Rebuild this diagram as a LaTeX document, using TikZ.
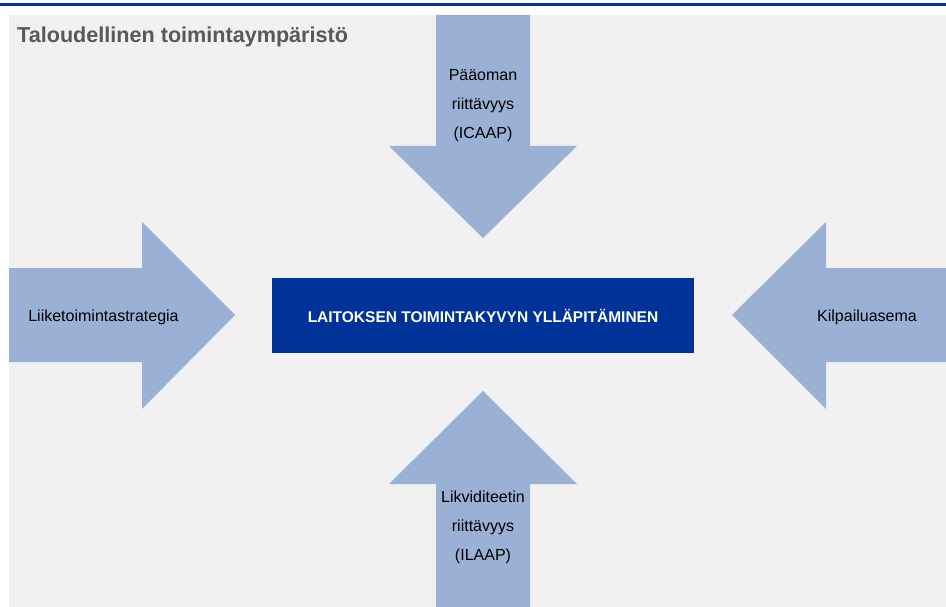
\documentclass[tikz,border=0pt]{standalone}
\usepackage{fontspec}
\setmainfont{Liberation Sans}
\usepackage{xcolor}
\usepackage{tikz}
\usetikzlibrary{positioning}
\definecolor{dblue}{RGB}{0 51 153}
\definecolor{lblue}{RGB}{155 176 213}
\definecolor{bggray}{RGB}{241 241 241}
\definecolor{tgray}{RGB}{89 89 89}

\begin{document}
\begin{tikzpicture}[x=1pt,y=-1pt,
  blockarrow/.style={fill=lblue,draw=none},
  arrowlabel/.style={align=center,inner sep=0pt,font=\fontsize{16}{29}\selectfont}]

\useasboundingbox (0,0) rectangle (946,607);

% background and top rule
\fill[bggray] (9,15) rectangle (946,607);
\draw[dblue,line width=3pt] (0,5) -- (946,5);

\node[anchor=base west,inner sep=0pt,text=tgray,font=\fontsize{21.6}{25}\selectfont\bfseries] (title) at (17,43) {Taloudellinen toimintaympäristö};

% the four arrows
\fill[blockarrow] (436,15) -- (530,15) -- (530,146) -- (577,146) -- (483,238) -- (389,146) -- (436,146) -- cycle;
\fill[blockarrow] (436,607) -- (436,484) -- (389,484) -- (483,391) -- (577,484) -- (530,484) -- (530,607) -- cycle;
\fill[blockarrow] (9,268) -- (142,268) -- (142,222) -- (235,315) -- (142,409) -- (142,362) -- (9,362) -- cycle;
\fill[blockarrow] (946,268) -- (826,268) -- (826,222) -- (732,315) -- (826,409) -- (826,362) -- (946,362) -- cycle;

% labels on the arrows
\node[arrowlabel] (pääoma) at (483,106) {Pääoman\\riittävyys\\(ICAAP)};
\node[arrowlabel] (likviditeetti) at (483,527) {Likviditeetin\\riittävyys\\(ILAAP)};
\node[arrowlabel] (strategia) at (103.5,317) {Liiketoimintastrategia};
\node[arrowlabel] (kilpailu) at (867,317) {Kilpailuasema};

% centre box
\node[fill=dblue,text=white,minimum width=422pt,minimum height=75pt,inner sep=0pt,
      font=\fontsize{15.5}{18}\selectfont\bfseries] (toimintakyky) at (483,315.5) {LAITOKSEN TOIMINTAKYVYN YLLÄPITÄMINEN};

\end{tikzpicture}
\end{document}
